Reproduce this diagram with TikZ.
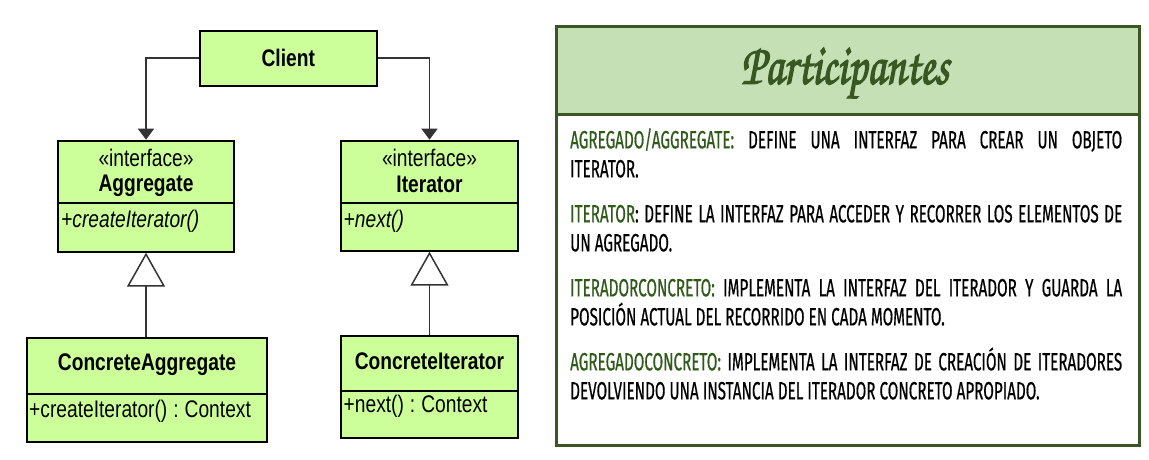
\documentclass[tikz,border=0pt]{standalone}
\usepackage{fontspec}
\usetikzlibrary{arrows.meta}
\newfontfamily\umlfont{Liberation Sans}[FakeStretch=0.8]
\newfontfamily\bodyfont{Fira Sans}[FakeStretch=0.61,FakeBold=0.5]
\newfontfamily\titlefont{TeX Gyre Chorus}[FakeStretch=0.76,FakeBold=2]
\definecolor{umlgreen}{HTML}{CCFF99}
\definecolor{dkgreen}{HTML}{385723}
\definecolor{hdrgreen}{HTML}{C5E0B4}
\definecolor{labgreen}{HTML}{2F5A1A}
\newcommand{\lab}[1]{\textcolor{labgreen}{#1}}
\begin{document}
\begin{tikzpicture}[x=1pt,y=-1pt,
  umlbox/.style={draw=black, line width=2pt, fill=umlgreen, inner sep=0pt,
    font=\umlfont\fontsize{24}{26}\selectfont},
  umltext/.style={inner sep=0pt, font=\umlfont\fontsize{24}{26}\selectfont},
  umlname/.style={umltext, font=\umlfont\fontsize{24}{26}\selectfont\bfseries},
  umlop/.style={umltext, anchor=west},
  divider/.style={draw=black, line width=2pt},
  assoc/.style={draw=black!80, line width=1.5pt, -{Triangle[length=11pt,width=16pt]}},
  inherit/.style={draw=black!80, line width=1.5pt, -{Triangle[length=34pt,width=38pt,fill=white]}},
  body/.style={anchor=north west, inner sep=0pt, text width=552pt, align=justify,
    font=\bodyfont\fontsize{25}{29}\selectfont,
    execute at begin node={\setlength{\parskip}{16pt}}}
]
\useasboundingbox (0,0) rectangle (1149,460);

% ---------- UML diagram ----------
\node[umlbox, minimum width=176.7pt, minimum height=55pt] (client) at (288.3,58.2) {\bfseries Client};

\node[umlbox, minimum width=176pt, minimum height=111pt] (agg) at (146,196.2) {};
\coordinate (aggdiv) at (146,203);
\draw[divider] (agg.west |- aggdiv) -- (agg.east |- aggdiv);
\node[umltext] (aggst) at (146,158.3) {«interface»};
\node[umlname] (aggname) at (146,186) {Aggregate};
\node[umlop] (aggop) at (61,221.7) {\itshape +createIterator()};

\node[umlbox, minimum width=177.6pt, minimum height=110pt] (iter) at (429.5,195.7) {};
\coordinate (iterdiv) at (429.5,203.3);
\draw[divider] (iter.west |- iterdiv) -- (iter.east |- iterdiv);
\node[umltext] (iterst) at (429.5,158.3) {«interface»};
\node[umlname] (itername) at (429.5,184.5) {Iterator};
\node[umlop] (iterop) at (343.5,221) {\itshape +next()};

\node[umlbox, minimum width=240.6pt, minimum height=103.4pt] (cagg) at (147,390) {};
\coordinate (caggdiv) at (147,394);
\draw[divider] (cagg.west |- caggdiv) -- (cagg.east |- caggdiv);
\node[umlname] (caggname) at (147,365) {ConcreteAggregate};
\node[umlop] (caggop) at (29,411) {+createIterator()\hspace{6pt}:\hspace{6pt}Context};

\node[umlbox, minimum width=177.6pt, minimum height=102.6pt] (citer) at (429.5,387) {};
\coordinate (citerdiv) at (429.5,390.7);
\draw[divider] (citer.west |- citerdiv) -- (citer.east |- citerdiv);
\node[umlname] (citername) at (429.5,361.7) {ConcreteIterator};
\node[umlop] (citerop) at (343.5,406.7) {+next()\hspace{6pt}:\hspace{6pt}Context};

\draw[assoc] (client.west) -| (agg.north);
\draw[assoc] (client.east) -| (iter.north);
\draw[inherit] (cagg.north -| agg.south) -- (agg.south);
\draw[inherit] (citer.north -| iter.south) -- (iter.south);

% ---------- Participants panel ----------
\node[draw=dkgreen, line width=3pt, fill=white, minimum width=583pt, minimum height=419pt, inner sep=0pt] (panel) at (847.5,235.8) {};
\node[draw=dkgreen, line width=3pt, fill=hdrgreen, minimum width=583pt, minimum height=88pt, inner sep=0pt, anchor=north] (header) at (panel.north) {};
\node[inner sep=0pt, text=dkgreen, font=\titlefont\fontsize{58}{60}\selectfont] (title) at (845,73) {Participantes};

\node[body] (text) at (570,128) {%
\lab{AGREGADO/AGGREGATE:} DEFINE UNA INTERFAZ PARA CREAR UN OBJETO\linebreak ITERATOR.\par
\lab{ITERATOR}: DEFINE LA INTERFAZ PARA ACCEDER Y RECORRER LOS ELEMENTOS DE\linebreak UN AGREGADO.\par
\lab{ITERADORCONCRETO:} IMPLEMENTA LA INTERFAZ DEL ITERADOR Y GUARDA LA\linebreak POSICIÓN ACTUAL DEL RECORRIDO EN CADA MOMENTO.\par
\lab{AGREGADOCONCRETO:} IMPLEMENTA LA INTERFAZ DE CREACIÓN DE ITERADORES\linebreak DEVOLVIENDO UNA INSTANCIA DEL ITERADOR CONCRETO APROPIADO.};
\end{tikzpicture}
\end{document}
